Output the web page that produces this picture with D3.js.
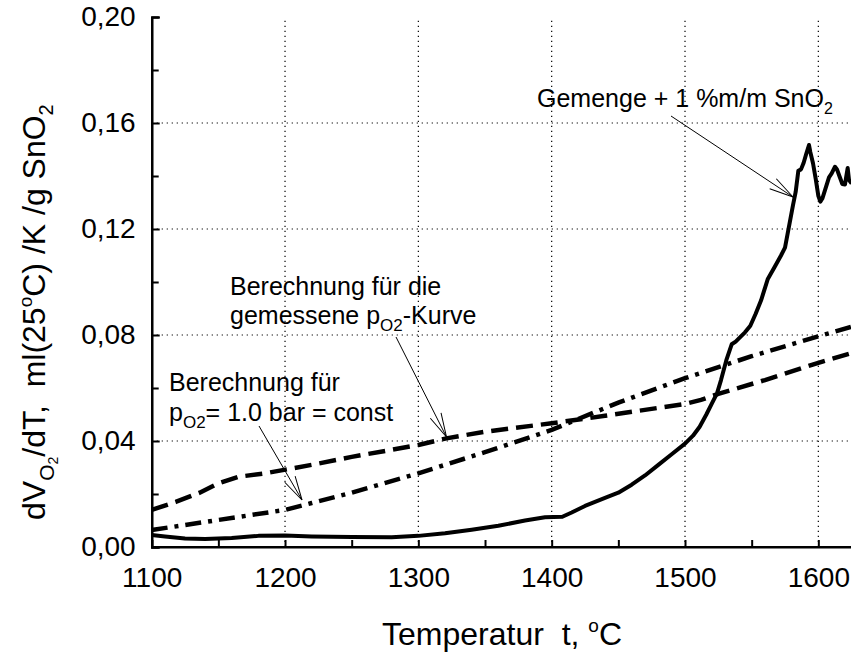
<!DOCTYPE html>
<html>
<head>
  <meta charset="utf-8">
  <script src="https://d3js.org/d3.v7.min.js"></script>
  <style>
    body { margin: 0; background: #fff; overflow: hidden; }
    text { font-family: "Liberation Sans", Arial, sans-serif; fill: #000; }
  </style>
</head>
<body>
<svg id="chart"></svg>
<script>
  var w = 851, h = 655;

  // measured curve: Gemenge + 1 %m/m SnO2
  var measT = [1100, 1110, 1125, 1140, 1160, 1180, 1200, 1220, 1250, 1280, 1300, 1320, 1340, 1360, 1380,
    1395, 1408, 1415, 1425, 1440, 1450, 1460, 1470, 1480, 1490, 1500, 1506, 1511, 1516, 1520, 1524,
    1527, 1531, 1535, 1538, 1541, 1545, 1549, 1553, 1557, 1562, 1567, 1572, 1575, 1578, 1581, 1583,
    1585, 1587, 1589, 1591, 1593, 1594, 1596, 1598, 1600, 1601.5, 1603, 1605, 1608, 1610, 1612.5,
    1614, 1616, 1618, 1620, 1621, 1622, 1623, 1625];
  var measV = [0.0045, 0.0040, 0.0032, 0.0030, 0.0034, 0.0042, 0.0043, 0.0040, 0.0038, 0.0037, 0.0042,
    0.0052, 0.0065, 0.0080, 0.0100, 0.0112, 0.0114, 0.0130, 0.0155, 0.0185, 0.0205, 0.0235, 0.0270,
    0.0310, 0.0350, 0.0390, 0.0420, 0.0454, 0.0500, 0.0540, 0.0580, 0.0630, 0.0705, 0.0765, 0.0775,
    0.0790, 0.0810, 0.0835, 0.0880, 0.0930, 0.1010, 0.1055, 0.1100, 0.1130, 0.1210, 0.1290, 0.1340,
    0.1420, 0.1425, 0.1450, 0.1485, 0.1517, 0.1490, 0.1448, 0.1390, 0.1325, 0.1303, 0.1315, 0.1347,
    0.1395, 0.1410, 0.1435, 0.1425, 0.1397, 0.1370, 0.1368, 0.1400, 0.1430, 0.1385, 0.1372];

  // calculation for the measured pO2 curve (dashed)
  var gemT = [1100, 1118, 1136, 1150, 1165, 1185, 1220, 1250, 1300, 1321, 1350, 1400, 1440, 1480,
    1500, 1512, 1525, 1560, 1600, 1625];
  var gemV = [0.0140, 0.0170, 0.0205, 0.0240, 0.0265, 0.0278, 0.0310, 0.0340, 0.0385, 0.0410, 0.0435,
    0.0467, 0.0495, 0.0525, 0.0540, 0.0555, 0.0578, 0.0630, 0.0695, 0.0732];

  // calculation for pO2 = 1.0 bar = const (dash-dot)
  var constT = [1100, 1150, 1200, 1220, 1250, 1300, 1350, 1400, 1450, 1500, 1550, 1600, 1625];
  var constV = [0.0064, 0.0102, 0.0140, 0.0166, 0.0205, 0.0278, 0.0358, 0.0442, 0.0545, 0.0637,
    0.0720, 0.0795, 0.0831];

  var xTicks = [1100, 1200, 1300, 1400, 1500, 1600];
  var xMinor = [1150, 1250, 1350, 1450, 1550, 1650];
  var yTicks = [0, 0.04, 0.08, 0.12, 0.16, 0.20];
  var yMinor = [0.02, 0.06, 0.10, 0.14, 0.18];

  var svg = d3.select("#chart").attr("width", w).attr("height", h);

  var x = d3.scaleLinear().domain([1100, 1650]).range([151.7, 885]);
  var y = d3.scaleLinear().domain([0, 0.2]).range([547, 17]);

  // dotted grid
  var grid = svg.append("g").attr("stroke", "#000").attr("stroke-width", 1.2)
    .attr("stroke-dasharray", "1.2,3.8");
  grid.selectAll("line.vx").data(xTicks.slice(1)).enter().append("line")
    .attr("x1", d => x(d)).attr("x2", d => x(d)).attr("y1", y(0)).attr("y2", y(0.2));
  grid.selectAll("line.hy").data(yTicks.slice(1, 5)).enter().append("line")
    .attr("x1", x(1100)).attr("x2", w).attr("y1", d => y(d)).attr("y2", d => y(d));

  function pts(ts, vs) { return ts.map((t, i) => [t, vs[i]]); }
  var line = d3.line().x(d => x(d[0])).y(d => y(d[1]));

  svg.append("path").datum(pts(gemT, gemV)).attr("d", line)
    .attr("fill", "none").attr("stroke", "#000").attr("stroke-width", 4.5)
    .attr("stroke-dasharray", "17,8");
  svg.append("path").datum(pts(constT, constV)).attr("d", line)
    .attr("fill", "none").attr("stroke", "#000").attr("stroke-width", 4.5)
    .attr("stroke-dasharray", "16,7,4,7");
  svg.append("path").datum(pts(measT, measV)).attr("d", line)
    .attr("fill", "none").attr("stroke", "#000").attr("stroke-width", 4)
    .attr("stroke-linejoin", "round");

  // axes with inward ticks
  var fmt = d => d3.format(".2f")(d).replace(".", ",");
  var xAxis = svg.append("g").attr("transform", "translate(0," + y(0) + ")")
    .call(d3.axisBottom(x).tickValues(xTicks).tickSize(-7).tickPadding(20).tickFormat(d3.format("d")));
  svg.append("g").attr("transform", "translate(0," + y(0) + ")")
    .call(d3.axisBottom(x).tickValues(xMinor).tickSize(-7).tickFormat(""));
  var yAxis = svg.append("g").attr("transform", "translate(" + x(1100) + ",0)")
    .call(d3.axisLeft(y).tickValues(yTicks).tickSize(-8).tickPadding(16).tickFormat(fmt));
  svg.append("g").attr("transform", "translate(" + x(1100) + ",0)")
    .call(d3.axisLeft(y).tickValues(yMinor).tickSize(-7).tickFormat(""));
  svg.selectAll(".domain").attr("stroke-width", 2.2);
  svg.selectAll(".tick line").attr("stroke-width", 2);
  svg.selectAll(".tick text").attr("font-size", 28).attr("font-family", "Liberation Sans, Arial, sans-serif");
  svg.selectAll(".domain").filter(function() { return this.parentNode === xAxis.node(); })
    .attr("d", "M" + x(1100) + ",0H" + w);

  // axis titles
  var xt = svg.append("text").attr("x", 382).attr("y", 645).attr("font-size", 32)
    .attr("xml:space", "preserve");
  xt.append("tspan").text("Temperatur  t, ");
  xt.append("tspan").attr("font-size", 19).attr("dy", -13).text("o");
  xt.append("tspan").attr("dy", 13).text("C");

  var yt = svg.append("text").attr("transform", "translate(45,520) rotate(-90)")
    .attr("font-size", 32).attr("xml:space", "preserve");
  yt.append("tspan").text("dV");
  yt.append("tspan").attr("font-size", 21).attr("dy", 9).text("O");
  yt.append("tspan").attr("font-size", 14).attr("dy", 4).text("2");
  yt.append("tspan").attr("dy", -13).text("/dT,  ml(25");
  yt.append("tspan").attr("font-size", 19).attr("dy", -13).text("o");
  yt.append("tspan").attr("dy", 13).text("C) /K /g SnO");
  yt.append("tspan").attr("font-size", 20).attr("dy", 8).text("2");

  // annotations
  var defs = svg.append("defs");
  defs.append("marker").attr("id", "arr").attr("markerUnits", "userSpaceOnUse")
    .attr("viewBox", "-26 -8 28 16").attr("refX", 0).attr("refY", 0)
    .attr("markerWidth", 28).attr("markerHeight", 16).attr("orient", "auto")
    .append("path").attr("d", "M-24,-6L0,0L-24,6").attr("fill", "none")
    .attr("stroke", "#000").attr("stroke-width", 1);

  var notes = [
    { from: [671, 116], to: [793, 197] },
    { from: [396, 337], to: [446.5, 437] },
    { from: [259, 426], to: [302, 500] }
  ];
  svg.selectAll("line.arrow").data(notes).enter().append("line")
    .attr("x1", d => d.from[0]).attr("y1", d => d.from[1])
    .attr("x2", d => d.to[0]).attr("y2", d => d.to[1])
    .attr("stroke", "#000").attr("stroke-width", 1).attr("marker-end", "url(#arr)");

  var g1 = svg.append("text").attr("x", 537).attr("y", 107).attr("font-size", 25);
  g1.append("tspan").text("Gemenge + 1 %m/m SnO");
  g1.append("tspan").attr("font-size", 16).attr("dy", 7).text("2");

  svg.append("text").attr("x", 230).attr("y", 295).attr("font-size", 25).text("Berechnung für die");
  var g2 = svg.append("text").attr("x", 230).attr("y", 324).attr("font-size", 25);
  g2.append("tspan").text("gemessene p");
  g2.append("tspan").attr("font-size", 17).attr("dy", 7).text("O2");
  g2.append("tspan").attr("dy", -7).text("-Kurve");

  svg.append("text").attr("x", 169).attr("y", 391).attr("font-size", 25).text("Berechnung für");
  var g3 = svg.append("text").attr("x", 169).attr("y", 421).attr("font-size", 25);
  g3.append("tspan").text("p");
  g3.append("tspan").attr("font-size", 17).attr("dy", 7).text("O2");
  g3.append("tspan").attr("dy", -7).text("= 1.0 bar = const");
</script>
</body>
</html>
